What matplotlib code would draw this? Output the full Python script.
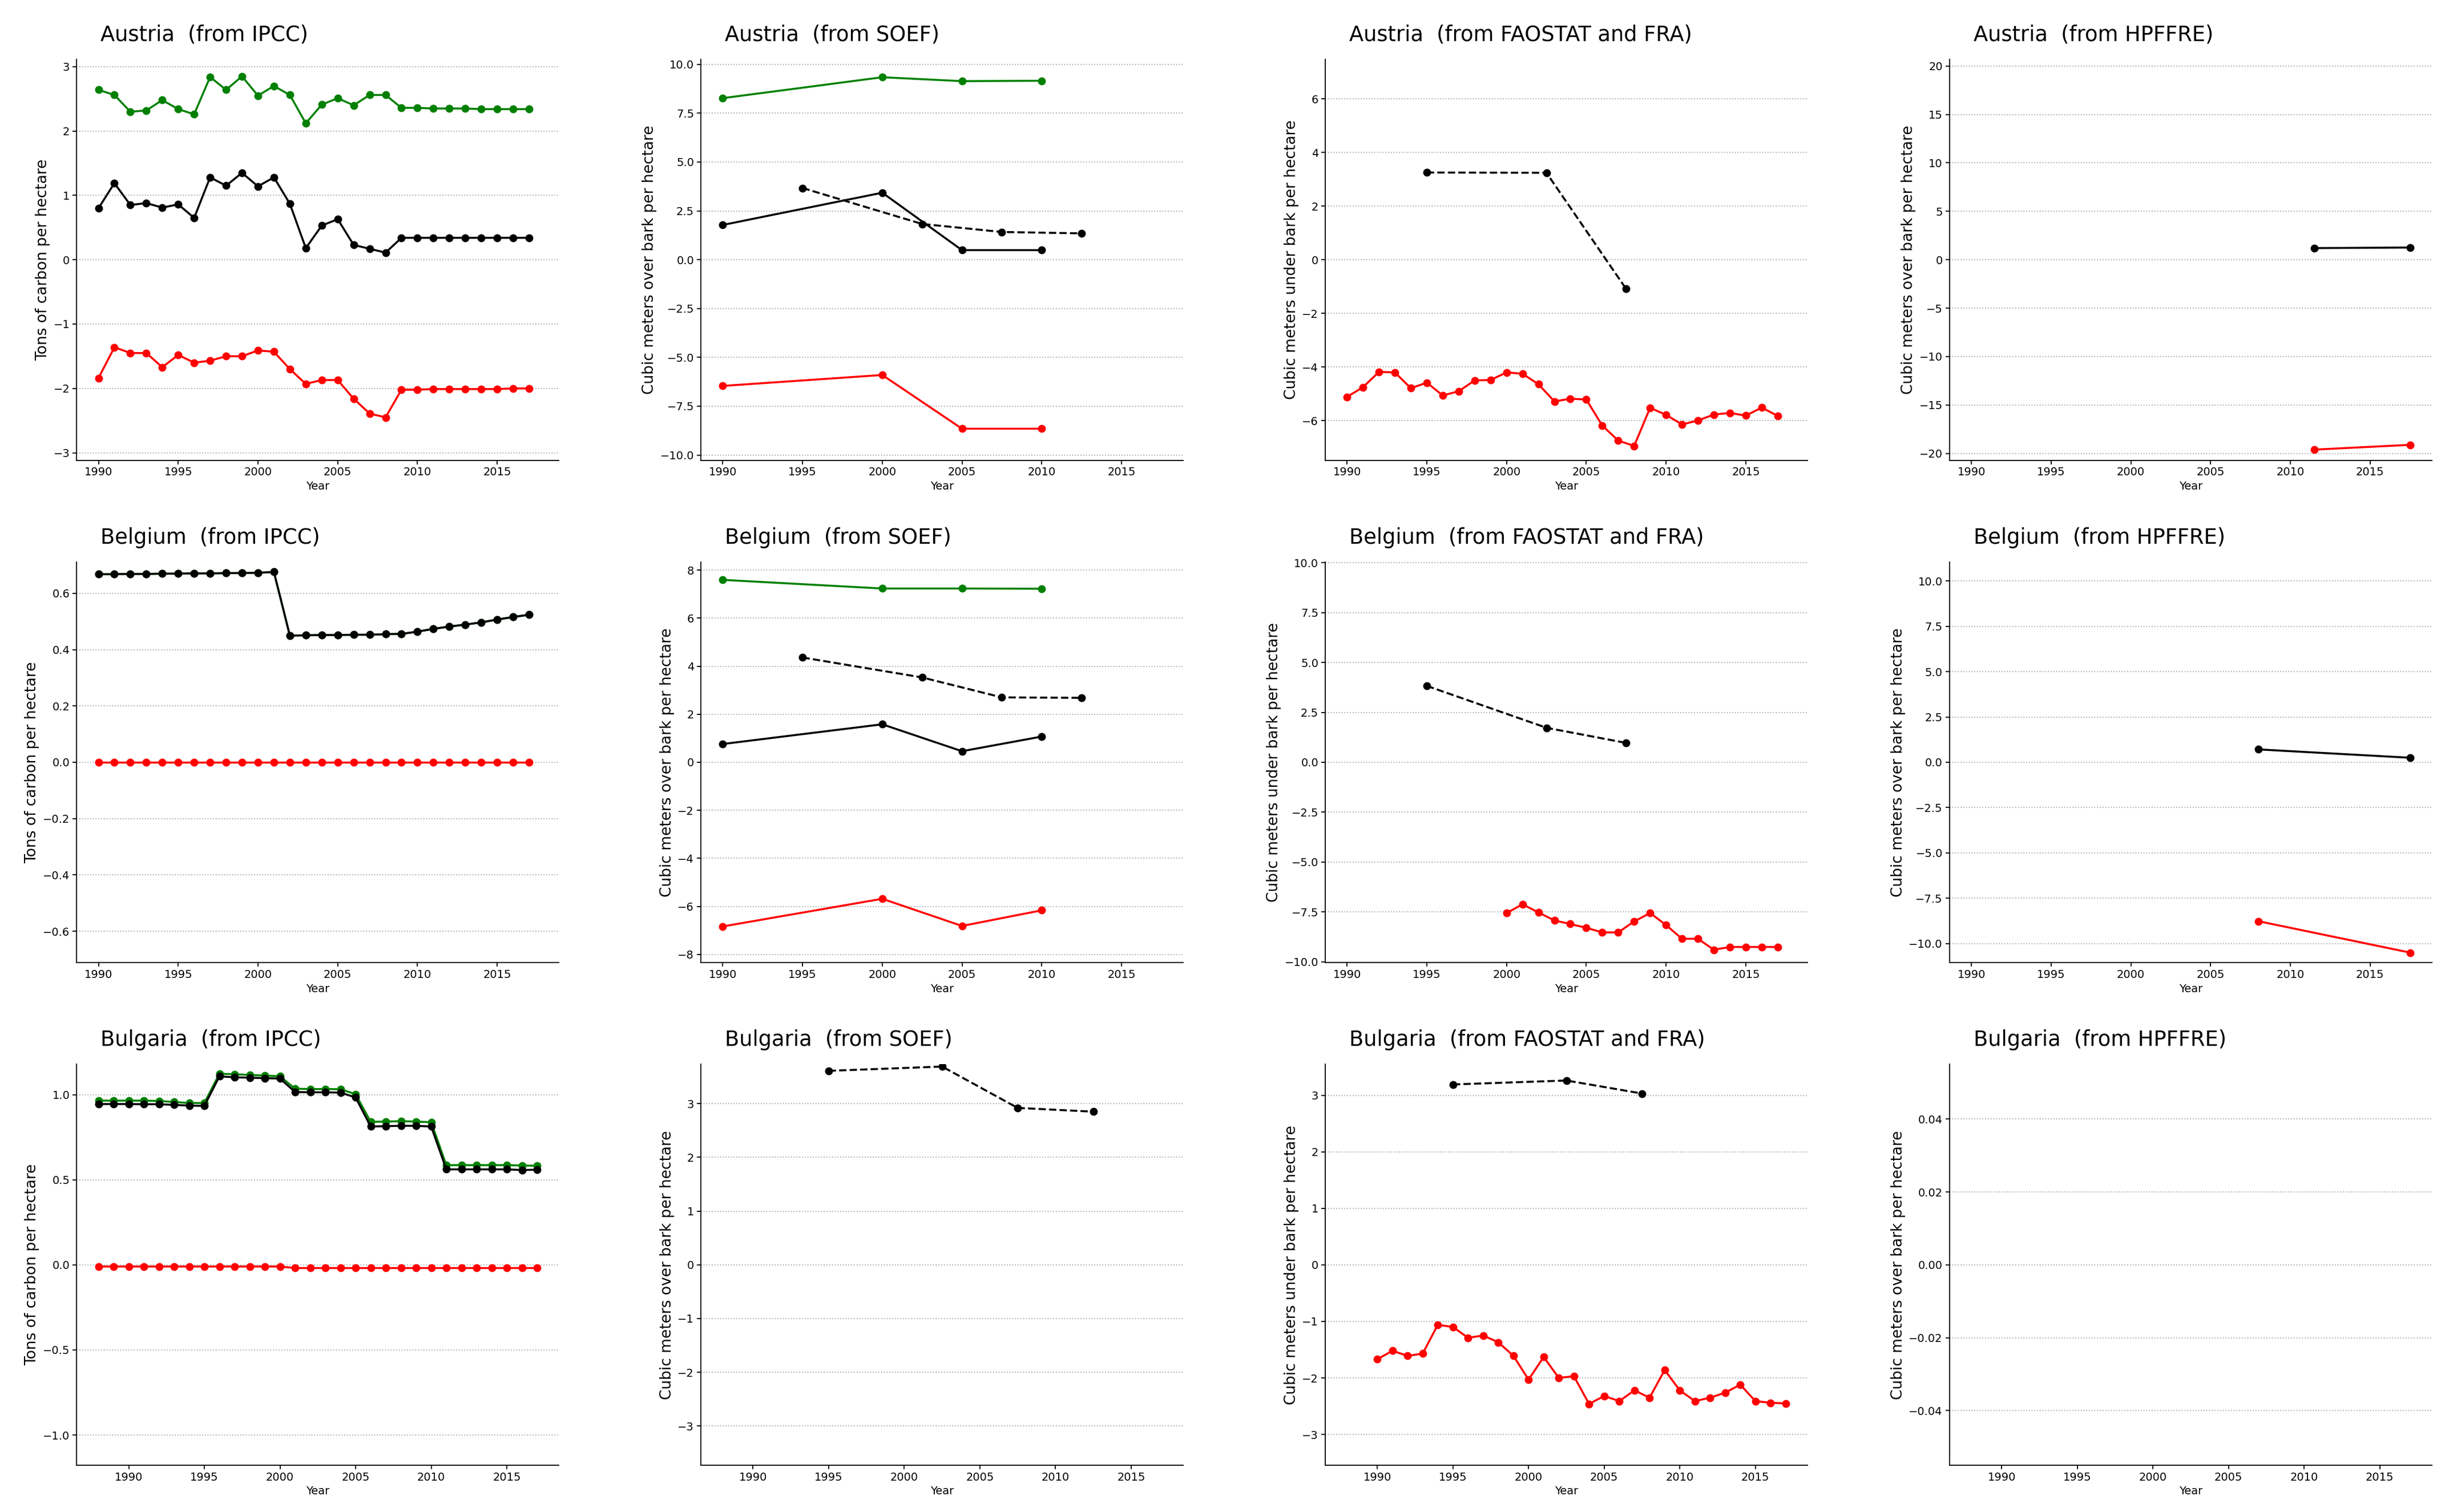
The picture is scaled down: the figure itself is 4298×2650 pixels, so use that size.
import matplotlib
matplotlib.use("Agg")
import matplotlib.pyplot as plt

# ── categories ─────────────────────────────────────────
countries = ["Austria", "Belgium", "Bulgaria"]
sources = ["IPCC", "SOEF", "FAOSTAT and FRA", "HPFFRE"]
ylabels = ["Tons of carbon per hectare",
           "Cubic meters over bark per hectare",
           "Cubic meters under bark per hectare",
           "Cubic meters over bark per hectare"]

years_90 = list(range(1990, 2018))
years_88 = list(range(1988, 2018))
years_00 = list(range(2000, 2018))
soef_years = [1990, 2000, 2005, 2010]
soef_dash_years = [1995, 2002.5, 2007.5, 2012.5]
fao_dash_years = [1995, 2002.5, 2007.5]

# ── Austria ────────────────────────────────────────────
aut_ipcc_green = [2.64, 2.56, 2.30, 2.32, 2.48, 2.34, 2.26, 2.84, 2.64, 2.85,
                  2.55, 2.70, 2.56, 2.12, 2.41, 2.51, 2.40, 2.56, 2.56, 2.36,
                  2.36, 2.35, 2.35, 2.35, 2.34, 2.34, 2.34, 2.34]
aut_ipcc_red = [-1.84, -1.36, -1.45, -1.45, -1.67, -1.48, -1.60, -1.57, -1.50, -1.50,
                -1.41, -1.43, -1.70, -1.93, -1.87, -1.87, -2.16, -2.39, -2.45, -2.02,
                -2.02, -2.01, -2.01, -2.01, -2.01, -2.01, -2.00, -2.00]
aut_ipcc_net = [0.80, 1.19, 0.85, 0.88, 0.81, 0.86, 0.65, 1.28, 1.15, 1.35,
                1.14, 1.28, 0.87, 0.18, 0.53, 0.63, 0.23, 0.17, 0.11, 0.34,
                0.34, 0.34, 0.34, 0.34, 0.34, 0.34, 0.34, 0.34]

aut_soef_green = [8.27, 9.34, 9.14, 9.16]
aut_soef_red = [-6.46, -5.90, -8.65, -8.65]
aut_soef_net = [1.78, 3.43, 0.49, 0.49]
aut_soef_dash = [3.67, 1.83, 1.42, 1.35]

aut_fao_red = [-5.11, -4.75, -4.18, -4.20, -4.79, -4.58, -5.06, -4.90, -4.50, -4.48,
               -4.20, -4.25, -4.64, -5.28, -5.18, -5.21, -6.18, -6.74, -6.94, -5.52,
               -5.78, -6.14, -5.99, -5.77, -5.71, -5.81, -5.51, -5.82]
aut_fao_dash = [3.25, 3.24, -1.09]

aut_hp_years = [2011.5, 2017.5]
aut_hp_red = [-19.61, -19.12]
aut_hp_net = [1.20, 1.26]

# ── Belgium ────────────────────────────────────────────
bel_ipcc_net = [0.668, 0.668, 0.669, 0.669, 0.670, 0.670, 0.671, 0.671, 0.672, 0.672,
                0.673, 0.676, 0.450, 0.451, 0.452, 0.452, 0.453, 0.453, 0.455, 0.456,
                0.464, 0.474, 0.482, 0.489, 0.497, 0.507, 0.516, 0.524]
bel_ipcc_green = bel_ipcc_net
bel_ipcc_red = [0.0] * 28

bel_soef_green = [7.59, 7.23, 7.23, 7.22]
bel_soef_red = [-6.83, -5.68, -6.81, -6.16]
bel_soef_net = [0.76, 1.58, 0.46, 1.07]
bel_soef_dash = [4.36, 3.53, 2.70, 2.68]

bel_fao_red = [-7.56, -7.12, -7.53, -7.93, -8.11, -8.30, -8.53, -8.53, -7.98, -7.56,
               -8.16, -8.85, -8.85, -9.40, -9.26, -9.26, -9.26, -9.26]
bel_fao_dash = [3.83, 1.73, 0.97]

bel_hp_years = [2008, 2017.5]
bel_hp_red = [-8.77, -10.50]
bel_hp_net = [0.71, 0.25]

# ── Bulgaria ───────────────────────────────────────────
bgr_ipcc_green = [0.965, 0.965, 0.965, 0.965, 0.963, 0.957, 0.951, 0.951, 1.123, 1.120,
                  1.116, 1.112, 1.108, 1.035, 1.033, 1.033, 1.032, 1.003, 0.840, 0.842,
                  0.844, 0.842, 0.838, 0.586, 0.586, 0.586, 0.586, 0.586, 0.584, 0.582]
bgr_ipcc_net = [0.945, 0.945, 0.945, 0.944, 0.944, 0.940, 0.936, 0.934, 1.108, 1.102,
                1.100, 1.097, 1.095, 1.016, 1.014, 1.014, 1.012, 0.984, 0.813, 0.815,
                0.817, 0.817, 0.813, 0.561, 0.561, 0.561, 0.561, 0.561, 0.557, 0.559]
bgr_ipcc_red = [-0.010] * 13 + [-0.019] * 17

bgr_soef_dash = [3.61, 3.69, 2.92, 2.85]

bgr_fao_red = [-1.67, -1.52, -1.61, -1.57, -1.06, -1.10, -1.29, -1.25, -1.37, -1.61,
               -2.03, -1.63, -2.00, -1.97, -2.46, -2.32, -2.41, -2.22, -2.35, -1.86,
               -2.22, -2.41, -2.35, -2.26, -2.12, -2.41, -2.44, -2.45]
bgr_fao_dash = [3.19, 3.26, 3.03]

# y-limits (symmetric about 0)
ylims = [[3.115, 10.26, 7.47, 20.7],
         [0.712, 8.34, 10.05, 11.06],
         [1.178, 3.73, 3.545, 0.055]]
xlims = [(1988.625, 2018.875), (1988.625, 2018.875), (1986.55, 2018.45)]

LW = 2.5
MS = 9

fig, axes = plt.subplots(3, 4, figsize=(42.98, 26.5), dpi=100)
fig.subplots_adjust(left=0.0312, right=0.9914, top=0.9608, bottom=0.0309,
                    wspace=0.294, hspace=0.2536)


def solid(ax, x, y, color):
    ax.plot(x, y, color=color, linewidth=LW, marker='o', markersize=MS)


def dashed(ax, x, y):
    ax.plot(x, y, color='black', linewidth=LW, linestyle='--', marker='o', markersize=MS)


# row 0: Austria
ax = axes[0, 0]
solid(ax, years_90, aut_ipcc_green, 'green')
solid(ax, years_90, aut_ipcc_red, 'red')
solid(ax, years_90, aut_ipcc_net, 'black')
ax = axes[0, 1]
solid(ax, soef_years, aut_soef_green, 'green')
solid(ax, soef_years, aut_soef_red, 'red')
solid(ax, soef_years, aut_soef_net, 'black')
dashed(ax, soef_dash_years, aut_soef_dash)
ax = axes[0, 2]
solid(ax, years_90, aut_fao_red, 'red')
dashed(ax, fao_dash_years, aut_fao_dash)
ax = axes[0, 3]
solid(ax, aut_hp_years, aut_hp_red, 'red')
solid(ax, aut_hp_years, aut_hp_net, 'black')

# row 1: Belgium
ax = axes[1, 0]
solid(ax, years_90, bel_ipcc_green, 'green')
solid(ax, years_90, bel_ipcc_red, 'red')
solid(ax, years_90, bel_ipcc_net, 'black')
ax = axes[1, 1]
solid(ax, soef_years, bel_soef_green, 'green')
solid(ax, soef_years, bel_soef_red, 'red')
solid(ax, soef_years, bel_soef_net, 'black')
dashed(ax, soef_dash_years, bel_soef_dash)
ax = axes[1, 2]
solid(ax, years_00, bel_fao_red, 'red')
dashed(ax, fao_dash_years, bel_fao_dash)
ax = axes[1, 3]
solid(ax, bel_hp_years, bel_hp_red, 'red')
solid(ax, bel_hp_years, bel_hp_net, 'black')

# row 2: Bulgaria
ax = axes[2, 0]
solid(ax, years_88, bgr_ipcc_green, 'green')
solid(ax, years_88, bgr_ipcc_red, 'red')
solid(ax, years_88, bgr_ipcc_net, 'black')
ax = axes[2, 1]
dashed(ax, soef_dash_years, bgr_soef_dash)
ax = axes[2, 2]
solid(ax, years_90, bgr_fao_red, 'red')
dashed(ax, fao_dash_years, bgr_fao_dash)

for r, country in enumerate(countries):
    for c, src in enumerate(sources):
        ax = axes[r, c]
        ax.set_xlim(*xlims[r])
        ax.set_ylim(-ylims[r][c], ylims[r][c])
        ax.set_xticks([1990, 1995, 2000, 2005, 2010, 2015])
        ax.spines['top'].set_visible(False)
        ax.spines['right'].set_visible(False)
        ax.spines['left'].set_linewidth(1.3)
        ax.spines['bottom'].set_linewidth(1.3)
        ax.yaxis.grid(True, linestyle=':', color='#aaaaaa', linewidth=1.3)
        ax.set_axisbelow(True)
        ax.tick_params(labelsize=14, width=1.3, length=5)
        ax.set_xlabel("Year", fontsize=14)
        ax.set_ylabel(ylabels[c], fontsize=19)
        ax.text(0.05, 1.0 + 32 / 702, f"{country}  (from {src})",
                transform=ax.transAxes, ha='left', va='baseline', fontsize=26.5)

plt.savefig("out.png", dpi=100)
